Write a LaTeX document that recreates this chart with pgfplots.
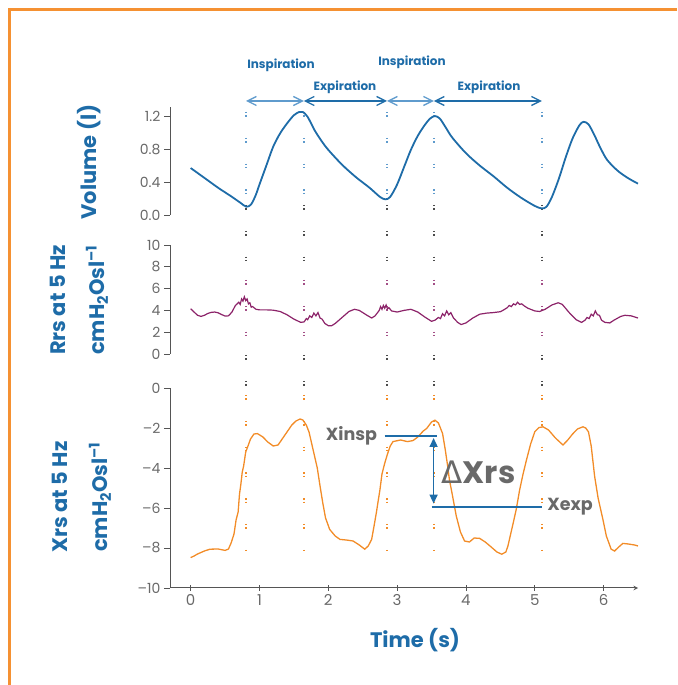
\documentclass[border=0pt]{standalone}
\usepackage{pgfplots}
\pgfplotsset{compat=1.18}
\usepackage{fontspec}
\setmainfont{Poppins}
\newfontfamily\deltafont{DejaVu Sans}
\usetikzlibrary{arrows.meta}

\definecolor{phblue}{RGB}{30,108,168}
\definecolor{lightblue}{RGB}{95,155,205}
\definecolor{rrspurple}{RGB}{140,35,105}
\definecolor{xrsorange}{RGB}{242,140,40}
\definecolor{frameorange}{RGB}{245,145,50}
\definecolor{txtgray}{RGB}{105,105,105}
\definecolor{axisgray}{RGB}{85,85,85}

\pgfplotsset{
  panel/.style={
    scale only axis, width=468pt,
    xmin=-0.3, xmax=6.5,
    axis y line=left,
    axis line style={-, draw=axisgray, line width=1pt},
    every outer y axis line/.append style={-},
    every outer x axis line/.append style={-},
    tick style={draw=axisgray, line width=0.8pt},
    tick align=outside, major tick length=6pt,
    tick label style={font=\fontsize{14}{14}\selectfont, text=txtgray},
    /pgf/number format/assume math mode=true,
    clip=false,
  },
}

\begin{document}
\begin{tikzpicture}
\useasboundingbox (0,0) rectangle (677pt,685pt);
\draw[frameorange, line width=2.5pt] (9.3pt,0pt) -- (9.3pt,675.5pt) -- (677pt,675.5pt);

% dotted guides through the three panels
\tikzset{guide/.style={line width=1.4pt, dash pattern=on 1.4pt off 2pt on 1.4pt off 21pt}}
\foreach \xx in {246,303.8,387,433.9,541.9} {
  \draw[guide, lightblue] (\xx pt,573pt) -- (\xx pt,480pt);
  \draw[guide, black!70] (\xx pt,480pt) -- (\xx pt,405pt);
  \draw[guide, rrspurple!80] (\xx pt,405pt) -- (\xx pt,330pt);
  \draw[guide, black!70] (\xx pt,330pt) -- (\xx pt,290pt);
  \draw[guide, xrsorange] (\xx pt,290pt) -- (\xx pt,135pt);
}

% breathing phase arrows
\draw[lightblue, line width=1.3pt, {Straight Barb[length=9pt,width=9pt]}-{Straight Barb[length=9pt,width=9pt]}] (246pt,584pt) -- (303.8pt,584pt);
\draw[phblue, line width=1.3pt, {Straight Barb[length=9pt,width=9pt]}-{Straight Barb[length=9pt,width=9pt]}] (303.8pt,584pt) -- (387pt,584pt);
\draw[lightblue, line width=1.3pt, {Straight Barb[length=9pt,width=9pt]}-{Straight Barb[length=9pt,width=9pt]}] (387pt,584pt) -- (433.9pt,584pt);
\draw[phblue, line width=1.3pt, {Straight Barb[length=9pt,width=9pt]}-{Straight Barb[length=9pt,width=9pt]}] (433.9pt,584pt) -- (541.9pt,584pt);
\begin{scope}[every node/.style={font=\fontsize{12}{12}\selectfont\bfseries, text=phblue}]
\node at (281pt,620pt) {Inspiration};
\node at (345pt,598pt) {Expiration};
\node at (412pt,623pt) {Inspiration};
\node at (489pt,598pt) {Expiration};
\end{scope}

% Volume
\begin{axis}[panel, at={(170pt,470pt)}, anchor=south west, height=108pt,
  ymin=0, ymax=1.31, axis x line=none, xtick=\empty,
  ytick={0,0.4,0.8,1.2}, yticklabels={0.0,0.4,0.8,1.2}]
\addplot[phblue, line width=1.8pt, smooth] table {
0.00 0.57
0.20 0.45
0.40 0.33
0.60 0.22
0.72 0.15
0.81 0.10
0.88 0.13
0.95 0.25
1.00 0.37
1.10 0.60
1.20 0.83
1.30 0.99
1.40 1.11
1.50 1.21
1.58 1.25
1.63 1.25
1.70 1.19
1.80 1.03
1.90 0.90
2.00 0.79
2.20 0.61
2.40 0.46
2.60 0.33
2.75 0.22
2.83 0.19
2.90 0.22
3.00 0.37
3.10 0.58
3.20 0.79
3.30 0.96
3.40 1.09
3.48 1.17
3.55 1.20
3.62 1.17
3.70 1.07
3.80 0.94
4.00 0.75
4.20 0.60
4.40 0.47
4.60 0.33
4.80 0.21
5.00 0.11
5.10 0.08
5.17 0.10
5.25 0.22
5.35 0.44
5.45 0.70
5.55 0.93
5.65 1.09
5.71 1.13
5.78 1.10
5.86 0.98
5.95 0.82
6.05 0.67
6.20 0.54
6.35 0.45
6.50 0.38
};
\end{axis}

% Rrs
\begin{axis}[panel, at={(170pt,331pt)}, anchor=south west, height=109pt,
  ymin=0, ymax=10, axis x line=none, xtick=\empty,
  ytick={0,2,4,6,8,10}]
\addplot[rrspurple, line width=1.2pt] table {
0.00 4.15
0.05 3.85
0.10 3.55
0.15 3.45
0.20 3.55
0.25 3.72
0.30 3.82
0.35 3.85
0.40 3.78
0.45 3.62
0.50 3.48
0.55 3.50
0.60 3.85
0.65 4.45
0.70 4.75
0.72 4.55
0.74 5.05
0.76 4.85
0.78 5.25
0.80 4.90
0.82 5.05
0.84 4.60
0.86 4.70
0.88 4.30
0.90 4.35
0.95 4.10
1.00 4.05
1.10 4.05
1.20 4.02
1.30 3.90
1.40 3.60
1.50 3.20
1.60 2.90
1.65 2.95
1.68 3.25
1.70 3.15
1.73 3.50
1.76 3.35
1.79 3.75
1.82 3.50
1.85 3.80
1.88 3.30
1.91 3.20
1.95 2.80
2.00 2.60
2.05 2.60
2.10 2.80
2.20 3.35
2.30 3.90
2.38 4.10
2.45 4.00
2.55 3.60
2.63 3.30
2.68 3.50
2.71 3.75
2.74 4.00
2.76 4.35
2.78 4.10
2.80 4.45
2.82 4.20
2.84 4.50
2.86 4.15
2.88 4.25
2.92 3.95
3.00 3.85
3.10 4.00
3.20 4.10
3.30 3.85
3.40 3.40
3.50 3.00
3.55 3.10
3.60 3.35
3.63 3.25
3.66 3.70
3.69 3.50
3.72 3.95
3.75 3.60
3.78 3.80
3.82 3.30
3.88 2.90
3.93 2.70
4.00 2.85
4.10 3.30
4.20 3.65
4.30 3.75
4.40 3.80
4.50 3.88
4.55 4.05
4.60 4.25
4.63 4.45
4.66 4.35
4.69 4.60
4.72 4.50
4.75 4.75
4.78 4.55
4.81 4.60
4.85 4.40
4.90 4.20
5.00 3.95
5.07 3.90
5.15 4.10
5.25 4.50
5.34 4.70
5.40 4.55
5.50 3.80
5.60 3.15
5.68 2.90
5.73 3.10
5.76 3.35
5.79 3.25
5.82 3.65
5.85 3.50
5.88 3.95
5.91 3.60
5.94 3.55
5.97 3.10
6.02 2.90
6.09 2.85
6.15 3.10
6.25 3.45
6.31 3.55
6.40 3.50
6.50 3.30
};
\end{axis}

% Xrs
\begin{axis}[panel, at={(170pt,97pt)}, anchor=south west, height=200pt,
  ymin=-10, ymax=0, axis x line=bottom,
  xtick={0,1,2,3,4,5,6},
  ytick={-10,-8,-6,-4,-2,0}, yticklabels={–10,–8,–6,–4,–2,0},
  xticklabel style={font=\fontsize{15}{15}\selectfont}]
\addplot[xrsorange, line width=1.3pt] table {
0.00 -8.48
0.05 -8.40
0.10 -8.30
0.20 -8.15
0.28 -8.06
0.40 -8.05
0.50 -8.12
0.55 -8.05
0.59 -7.73
0.63 -7.30
0.66 -6.60
0.69 -6.20
0.71 -5.30
0.73 -4.80
0.75 -4.20
0.77 -3.90
0.80 -3.20
0.83 -2.93
0.87 -2.55
0.92 -2.30
0.97 -2.28
1.05 -2.45
1.12 -2.70
1.20 -2.90
1.27 -2.85
1.33 -2.55
1.40 -2.20
1.47 -1.85
1.53 -1.65
1.59 -1.55
1.63 -1.60
1.68 -1.85
1.72 -2.20
1.76 -2.80
1.80 -3.40
1.84 -4.00
1.88 -4.90
1.92 -5.75
1.96 -6.50
2.02 -7.07
2.10 -7.40
2.17 -7.57
2.26 -7.60
2.36 -7.65
2.45 -7.85
2.53 -8.06
2.58 -7.90
2.63 -7.57
2.67 -6.80
2.70 -6.20
2.72 -5.75
2.75 -5.10
2.78 -4.30
2.82 -3.76
2.86 -3.30
2.90 -2.90
2.94 -2.68
3.05 -2.60
3.15 -2.68
3.23 -2.63
3.30 -2.45
3.38 -2.15
3.43 -2.02
3.50 -1.70
3.55 -1.61
3.60 -1.75
3.66 -2.27
3.70 -3.10
3.73 -3.80
3.76 -4.59
3.80 -5.30
3.86 -6.41
3.92 -7.20
3.98 -7.65
4.05 -7.70
4.12 -7.50
4.20 -7.52
4.28 -7.70
4.35 -7.90
4.45 -8.20
4.52 -8.31
4.58 -8.20
4.61 -7.90
4.65 -7.30
4.69 -6.70
4.73 -6.08
4.78 -5.10
4.83 -4.30
4.88 -3.59
4.94 -2.80
5.00 -2.19
5.06 -1.98
5.12 -1.94
5.20 -2.10
5.30 -2.50
5.41 -2.85
5.48 -2.60
5.55 -2.30
5.62 -2.05
5.70 -1.94
5.74 -2.00
5.78 -2.19
5.82 -2.90
5.87 -4.42
5.92 -5.50
5.99 -6.57
6.04 -7.40
6.11 -8.06
6.16 -8.15
6.22 -7.95
6.28 -7.77
6.36 -7.80
6.45 -7.85
6.50 -7.90
};
% Xinsp / Xexp annotation
\draw[phblue, line width=1.8pt] (axis cs:2.82,-2.4) -- (axis cs:3.58,-2.4);
\draw[phblue, line width=1.8pt] (axis cs:3.50,-5.95) -- (axis cs:5.10,-5.95);
\draw[phblue, line width=1.5pt, {Triangle[length=9pt,width=8pt]}-{Triangle[length=9pt,width=8pt]}] (axis cs:3.53,-2.5) -- (axis cs:3.53,-5.78);
\node[anchor=east, text=txtgray, font=\fontsize{17.5}{17.5}\selectfont\bfseries] at (axis cs:2.76,-2.4) {Xinsp};
\node[anchor=west, text=txtgray, font=\fontsize{17.5}{17.5}\selectfont\bfseries] at (axis cs:5.13,-5.95) {Xexp};
\node[text=txtgray, font=\fontsize{31}{31}\selectfont\bfseries] at (axis cs:4.18,-4.2) {{\deltafont\fontseries{m}\selectfont Δ}Xrs};
\end{axis}

% axis titles
\begin{scope}[every node/.style={font=\fontsize{21}{21}\selectfont\bfseries, text=phblue}]
\node[rotate=90] at (89pt,523pt) {Volume (l)};
\node[rotate=90] at (58pt,385pt) {Rrs at 5 Hz};
\node[rotate=90] at (97pt,385pt) {cmH\textsubscript{2}Osl\textsuperscript{–1}};
\node[rotate=90] at (60pt,188pt) {Xrs at 5 Hz};
\node[rotate=90] at (100pt,188pt) {cmH\textsubscript{2}Osl\textsuperscript{–1}};
\node at (415pt,45pt) {Time (s)};
\end{scope}
\end{tikzpicture}
\end{document}
